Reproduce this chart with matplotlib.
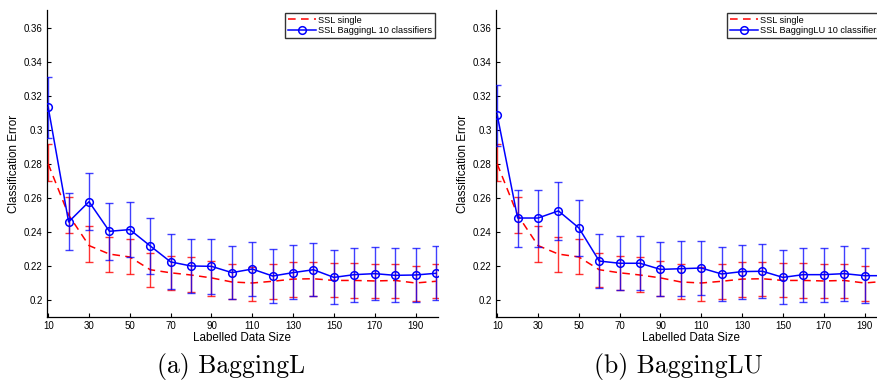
import matplotlib
matplotlib.use('Agg')
import matplotlib.pyplot as plt
from matplotlib.ticker import FuncFormatter

plt.rcParams['font.family'] = ['Liberation Sans', 'DejaVu Sans']

# labelled data size
sizes = [10, 20, 30, 40, 50, 60, 70, 80, 90, 100,
         110, 120, 130, 140, 150, 160, 170, 180, 190, 200]

# SSL single (same in both panels)
single_mean = [0.280, 0.250, 0.232, 0.227, 0.2253, 0.2178, 0.216, 0.2147, 0.213, 0.2106,
               0.210, 0.211, 0.2123, 0.2125, 0.2115, 0.2115, 0.2112, 0.2115, 0.210, 0.211]
single_hi = [0.292, 0.2605, 0.2435, 0.2372, 0.236, 0.2278, 0.226, 0.225, 0.223, 0.221,
             0.2195, 0.221, 0.2225, 0.2225, 0.222, 0.2215, 0.2213, 0.2213, 0.220, 0.2213]
single_lo = [0.270, 0.2395, 0.2225, 0.2165, 0.2155, 0.2075, 0.2058, 0.2045, 0.2025, 0.2006,
             0.1996, 0.2006, 0.202, 0.2025, 0.2015, 0.2012, 0.201, 0.2013, 0.1996, 0.201]

# SSL BaggingL 10 classifiers
bagL_mean = [0.3133, 0.2459, 0.2578, 0.2404, 0.2414, 0.2318, 0.2224, 0.2200, 0.2198, 0.2161,
             0.2182, 0.2141, 0.2161, 0.2178, 0.2133, 0.2149, 0.2155, 0.2145, 0.2147, 0.2157]
bagL_hi = [0.3312, 0.2627, 0.2747, 0.2568, 0.2578, 0.2480, 0.2388, 0.2361, 0.2359, 0.2320,
           0.2343, 0.2300, 0.2322, 0.2337, 0.2292, 0.2306, 0.2314, 0.2304, 0.2306, 0.2318]
bagL_lo = [0.2955, 0.2292, 0.2410, 0.2237, 0.2255, 0.2153, 0.2063, 0.2041, 0.2035, 0.2006,
           0.2022, 0.1982, 0.2004, 0.2022, 0.1976, 0.1990, 0.1998, 0.1986, 0.1990, 0.1998]

# SSL BaggingLU 10 classifiers
bagLU_mean = [0.3088, 0.2482, 0.2482, 0.2524, 0.2424, 0.2229, 0.2216, 0.2216, 0.2180, 0.2184,
              0.2188, 0.2153, 0.2167, 0.2169, 0.2133, 0.2149, 0.2149, 0.2155, 0.2143, 0.2143]
bagLU_hi = [0.3267, 0.2649, 0.2649, 0.2692, 0.2590, 0.2390, 0.2378, 0.2378, 0.2341, 0.2345,
            0.2349, 0.2312, 0.2326, 0.2328, 0.2292, 0.2308, 0.2308, 0.2316, 0.2304, 0.2304]
bagLU_lo = [0.2908, 0.2314, 0.2314, 0.2355, 0.2257, 0.2069, 0.2057, 0.2057, 0.2022, 0.2024,
            0.2027, 0.1994, 0.2006, 0.2010, 0.1975, 0.1990, 0.1990, 0.1996, 0.1984, 0.1984]

yticks = [0.2, 0.22, 0.24, 0.26, 0.28, 0.3, 0.32, 0.34, 0.36]
xticks = [10, 30, 50, 70, 90, 110, 130, 150, 170, 190]

panels = [
    ('SSL BaggingL 10 classifiers', bagL_mean, bagL_lo, bagL_hi, '(a) BaggingL'),
    ('SSL BaggingLU 10 classifiers', bagLU_mean, bagLU_lo, bagLU_hi, '(b) BaggingLU'),
]

fig = plt.figure(figsize=(8.78, 3.85), dpi=100)
lefts = [0.0535, 0.5649]
caption_x = [0.263, 0.773]

for i, (name, mean, lo, hi, caption) in enumerate(panels):
    ax = fig.add_axes([lefts[i], 0.1766, 0.4453, 0.7974])

    # SSL single with error bars
    s_err = [[m - l for m, l in zip(single_mean, single_lo)],
             [h - m for m, h in zip(single_mean, single_hi)]]
    ax.errorbar(sizes, single_mean, yerr=s_err, fmt='none', ecolor='red',
                elinewidth=1, capsize=3.2, capthick=1, alpha=0.8, zorder=2)
    ax.plot(sizes, single_mean, color='red', linestyle=(0, (5, 3.5)), lw=1.1,
            label='SSL single', zorder=3)

    # bagging ensemble with error bars
    b_err = [[m - l for m, l in zip(mean, lo)],
             [h - m for m, h in zip(mean, hi)]]
    ax.errorbar(sizes, mean, yerr=b_err, fmt='none', ecolor='blue',
                elinewidth=1, capsize=3, capthick=1, alpha=0.75, zorder=4)
    ax.plot(sizes, mean, color='blue', lw=1.1, marker='o', markersize=5.5,
            markerfacecolor='none', markeredgecolor='blue', markeredgewidth=1.1,
            label=name, zorder=5)

    ax.set_xlim(9.4, 201)
    ax.set_ylim(0.19, 0.3705)
    ax.set_xticks(xticks)
    ax.set_yticks(yticks)
    ax.yaxis.set_major_formatter(FuncFormatter(lambda v, p: '%g' % round(v, 3)))
    ax.tick_params(direction='in', length=3, width=0.8, labelsize=7,
                   colors='black', pad=3)
    ax.spines['top'].set_visible(False)
    ax.spines['right'].set_visible(False)
    for sp in ('left', 'bottom'):
        ax.spines[sp].set_linewidth(0.9)

    ax.set_xlabel('Labelled Data Size', fontsize=8.4, labelpad=0.5)
    ax.set_ylabel('Classification Error', fontsize=8.4, labelpad=3)

    leg = ax.legend(loc='upper right', fontsize=6.6, frameon=True, fancybox=False,
                    borderaxespad=0.3, handlelength=3.0, handletextpad=0.3,
                    borderpad=0.3, labelspacing=0.15)
    leg.get_frame().set_edgecolor('black')
    leg.get_frame().set_linewidth(1.0)

    fig.text(caption_x[i], 0.012, caption, fontsize=18.5, family='cmr10',
             ha='center', va='bottom')

fig.savefig('out.png', dpi=100)
